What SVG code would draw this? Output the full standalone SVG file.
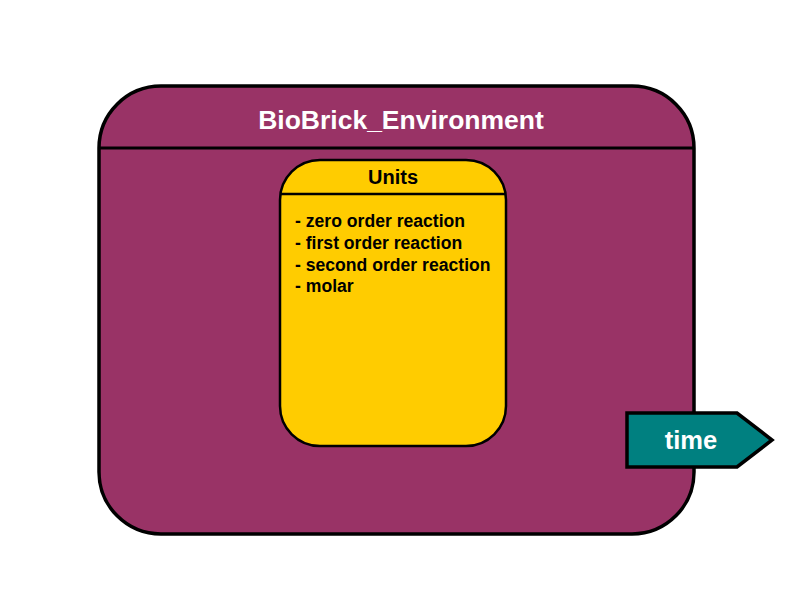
<svg xmlns="http://www.w3.org/2000/svg" width="800" height="600" viewBox="0 0 800 600">
<style>
.t{font-family:"Liberation Sans",Arial,sans-serif;font-weight:bold}
.ln{stroke:#000;stroke-width:3;fill:none}
</style>
<rect width="800" height="600" fill="#fff"/>
<g id="env">
<rect x="99" y="86" width="595" height="448" rx="62" ry="62" fill="#993366" stroke="#000" stroke-width="3.5"/>
<line class="ln" x1="100" y1="148" x2="693" y2="148"/>
<text class="t" x="401" y="129" font-size="26.5" fill="#fff" text-anchor="middle">BioBrick_Environment</text>
</g>
<g id="units">
<rect x="280" y="160" width="226" height="286" rx="40" ry="40" fill="#FFCC00" stroke="#000" stroke-width="2.5"/>
<line x1="281" y1="194" x2="505" y2="194" stroke="#000" stroke-width="2.5"/>
<text class="t" x="393" y="184" font-size="20" fill="#000" text-anchor="middle">Units</text>
<text class="t" font-size="17.6" fill="#000">
<tspan x="295" y="227">- zero order reaction</tspan>
<tspan x="295" y="249">- first order reaction</tspan>
<tspan x="295" y="271">- second order reaction</tspan>
<tspan x="295" y="292">- molar</tspan>
</text>
</g>
<g id="time">
<polygon points="627,413 737,413 772,440 737,467 627,467" fill="#008080" stroke="#000" stroke-width="3.5"/>
<text class="t" x="691" y="449" font-size="25.5" fill="#fff" text-anchor="middle">time</text>
</g>
<g id="connectors"/>
</svg>
